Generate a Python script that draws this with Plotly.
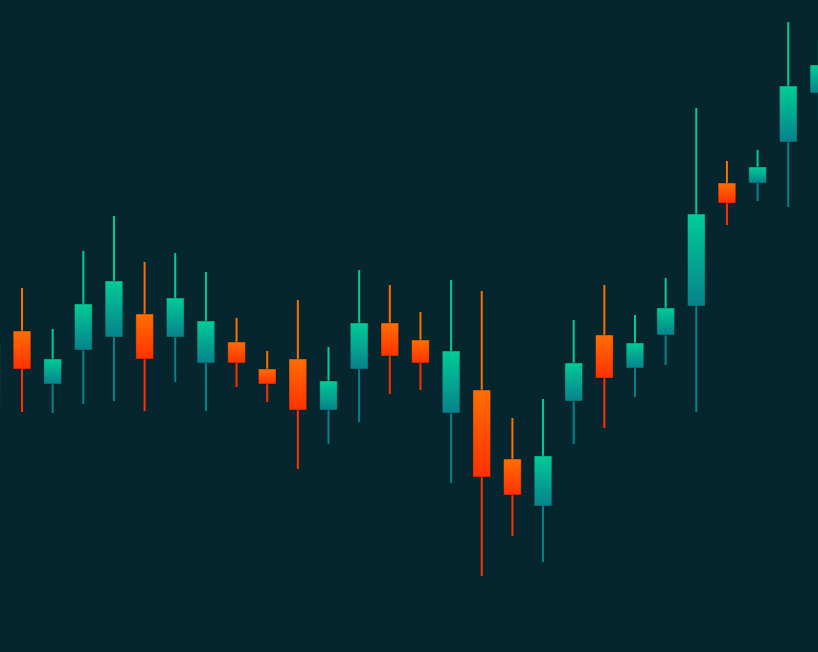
import plotly.graph_objects as go

# OHLC data (index 0 is the partially visible candle at the left edge)
idx = list(range(28))
open_ = [98.4, 113.8, 103.2, 110.0, 112.6, 117.2, 112.6, 107.4, 111.6, 106.2,
         108.2, 98.0, 106.2, 115.4, 112.0, 97.4, 102.0, 88.2, 78.8, 99.8,
         113.0, 106.4, 113.0, 118.8, 143.4, 143.4, 151.6, 161.4]
high = [114.0, 122.4, 114.2, 129.8, 136.8, 127.6, 129.4, 125.6, 116.4, 109.8,
        120.0, 110.6, 126.0, 123.0, 117.6, 124.0, 121.8, 96.4, 100.2, 116.0,
        123.0, 117.0, 124.4, 158.4, 147.8, 150.0, 175.6, 172.0]
low = [96.0, 97.6, 97.4, 99.2, 99.8, 97.8, 103.6, 97.8, 102.6, 99.6,
       86.2, 91.2, 95.6, 101.2, 102.0, 83.4, 64.8, 72.8, 67.6, 91.2,
       94.4, 100.6, 107.0, 97.6, 135.0, 139.8, 138.6, 156.0]
close = [111.2, 106.2, 108.2, 119.2, 123.8, 108.2, 120.4, 115.8, 107.4, 103.2,
         98.0, 103.8, 115.4, 108.8, 107.4, 109.8, 84.6, 81.0, 88.8, 107.4,
         104.4, 111.4, 118.4, 137.2, 139.4, 146.6, 162.8, 167.0]

BG = "#05262f"
UP_TOP, UP_BOT = "#00cc98", "#07828a"
DN_TOP, DN_BOT = "#ff6e00", "#ff3000"
HALF_W = 0.288

fig = go.Figure()

# wicks
wicks = {"up_hi": ([], []), "up_lo": ([], []), "dn_hi": ([], []), "dn_lo": ([], [])}
for i, o, h, l, c in zip(idx, open_, high, low, close):
    k = "up" if c >= o else "dn"
    top, bot = max(o, c), min(o, c)
    xs, ys = wicks[k + "_hi"]
    xs += [i, i, None]; ys += [top, h, None]
    xs, ys = wicks[k + "_lo"]
    xs += [i, i, None]; ys += [l, bot, None]

wcol = {"up_hi": UP_TOP, "up_lo": UP_BOT, "dn_hi": DN_TOP, "dn_lo": DN_BOT}
for k, (xs, ys) in wicks.items():
    fig.add_trace(go.Scatter(x=xs, y=ys, mode="lines",
                             line=dict(color=wcol[k], width=2),
                             hoverinfo="skip"))

# bodies with vertical gradient
for i, o, c in zip(idx, open_, close):
    up = c >= o
    top, bot = max(o, c), min(o, c)
    ctop, cbot = (UP_TOP, UP_BOT) if up else (DN_TOP, DN_BOT)
    fig.add_trace(go.Scatter(
        x=[i - HALF_W, i + HALF_W, i + HALF_W, i - HALF_W, i - HALF_W],
        y=[bot, bot, top, top, bot],
        mode="lines", fill="toself",
        line=dict(color="rgba(0,20,25,0.35)", width=1),
        fillgradient=dict(type="vertical",
                          colorscale=[[0, cbot], [1, ctop]]),
        hoverinfo="skip"))

fig.update_layout(
    width=818, height=652,
    margin=dict(l=0, r=0, t=0, b=0),
    paper_bgcolor=BG, plot_bgcolor=BG,
    showlegend=False,
    xaxis=dict(range=[0.282, 26.971], visible=False, fixedrange=True),
    yaxis=dict(range=[49.6, 180], visible=False, fixedrange=True),
)

fig.write_html(
    "out.html",
    config={"displayModeBar": False, "staticPlot": True},
    post_script=("document.body.style.margin='0';"
                 "document.body.style.padding='0';"
                 "document.body.style.overflow='hidden';"
                 "document.body.style.background='" + BG + "';"),
)
